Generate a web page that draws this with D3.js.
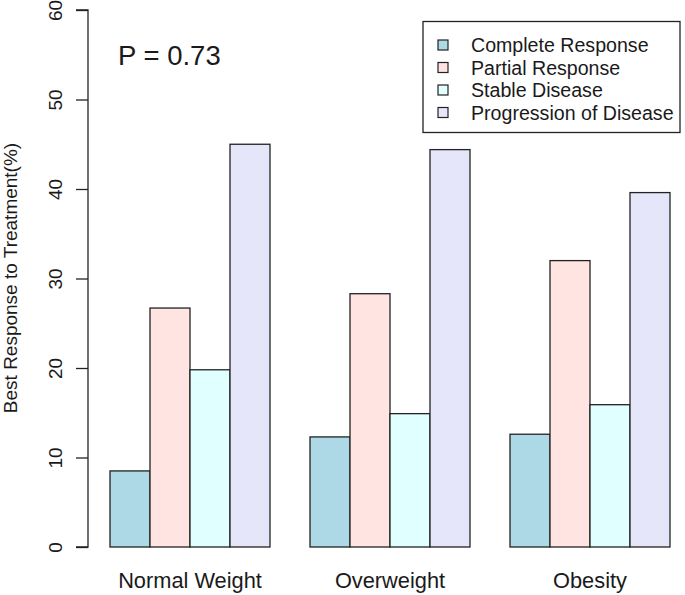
<!DOCTYPE html>
<html>
<head>
<meta charset="utf-8">
<script src="https://cdn.jsdelivr.net/npm/d3@7"></script>
<style>
  html, body { margin: 0; padding: 0; background: #fff; }
  svg { display: block; font-family: "Liberation Sans", Arial, sans-serif; }
</style>
</head>
<body>
<svg id="chart" width="685" height="595"></svg>
<script>
const groups = ["Normal Weight", "Overweight", "Obesity"];
const series = ["Complete Response", "Partial Response", "Stable Disease", "Progression of Disease"];
const colors = ["#ADD8E6", "#FFE4E1", "#E0FFFF", "#E6E6FA"];
const completeResponse = [8.5, 12.3, 12.6];
const partialResponse = [26.7, 28.3, 32.0];
const stableDisease = [19.8, 14.9, 15.9];
const progressionOfDisease = [45.0, 44.4, 39.6];
const yTicks = [0, 10, 20, 30, 40, 50, 60];
const yTitle = "Best Response to Treatment(%)";
const pLabel = "P = 0.73";

const seriesValues = [completeResponse, partialResponse, stableDisease, progressionOfDisease];
const data = groups.map((g, gi) => ({
  group: g,
  values: series.map((s, si) => ({ series: s, value: seriesValues[si][gi], color: colors[si] }))
}));

const svg = d3.select("#chart");
const textColor = "#1a1a1a";

const y = d3.scaleLinear().domain([0, 60]).range([547, 10]);
const x0 = d3.scaleBand().domain(groups).range([110, 670]).paddingInner(0.2).paddingOuter(0);
const x1 = d3.scaleBand().domain(series).range([0, x0.bandwidth()]).padding(0);

// Bars
const g = svg.append("g");
const grp = g.selectAll("g.grp").data(data).join("g")
  .attr("transform", d => `translate(${x0(d.group)},0)`);
grp.selectAll("rect").data(d => d.values).join("rect")
  .attr("x", d => x1(d.series))
  .attr("y", d => y(d.value))
  .attr("width", x1.bandwidth())
  .attr("height", d => y(0) - y(d.value))
  .attr("fill", d => d.color)
  .attr("stroke", "#222")
  .attr("stroke-width", 1.3);

// Category labels
svg.append("g").selectAll("text").data(groups).join("text")
  .attr("x", d => x0(d) + x0.bandwidth() / 2)
  .attr("y", 588)
  .attr("text-anchor", "middle")
  .attr("font-size", 21.8)
  .attr("fill", textColor)
  .text(d => d);

// Y axis
const yAxis = d3.axisLeft(y).tickValues(yTicks).tickSize(12).tickFormat(d3.format("d"));
const ya = svg.append("g").attr("transform", "translate(88,0)").call(yAxis);
ya.select(".domain").attr("stroke", "#222").attr("stroke-width", 1.3).attr("d", `M-12,${y(60)}H0V${y(0)}H-12`);
ya.selectAll(".tick line").attr("stroke", "#222").attr("stroke-width", 1.3);
ya.selectAll(".tick text")
  .attr("font-size", 19)
  .attr("fill", textColor)
  .attr("font-family", "Liberation Sans, Arial, sans-serif")
  .attr("text-anchor", "middle")
  .attr("x", null).attr("dy", null)
  .attr("transform", "translate(-26,0) rotate(-90)")
  .attr("y", 0);

// Y title
svg.append("text")
  .attr("transform", "translate(17,278) rotate(-90)")
  .attr("text-anchor", "middle")
  .attr("font-size", 19)
  .attr("fill", textColor)
  .text(yTitle);

// P label
svg.append("text")
  .attr("x", 118).attr("y", 65)
  .attr("font-size", 27.5)
  .attr("fill", textColor)
  .text(pLabel);

// Legend
const lg = svg.append("g");
lg.append("rect")
  .attr("x", 423).attr("y", 21.5).attr("width", 257).attr("height", 111)
  .attr("fill", "#fff").attr("stroke", "#222").attr("stroke-width", 1.3);
const items = lg.selectAll("g.item").data(series).join("g")
  .attr("transform", (d, i) => `translate(0,${45 + i * 22.5})`);
items.append("rect")
  .attr("x", 438).attr("y", -5).attr("width", 10).attr("height", 10)
  .attr("fill", (d, i) => colors[i]).attr("stroke", "#222").attr("stroke-width", 1.2);
items.append("text")
  .attr("x", 471).attr("y", 7)
  .attr("font-size", 19.6)
  .attr("fill", textColor)
  .text(d => d);
</script>
</body>
</html>
